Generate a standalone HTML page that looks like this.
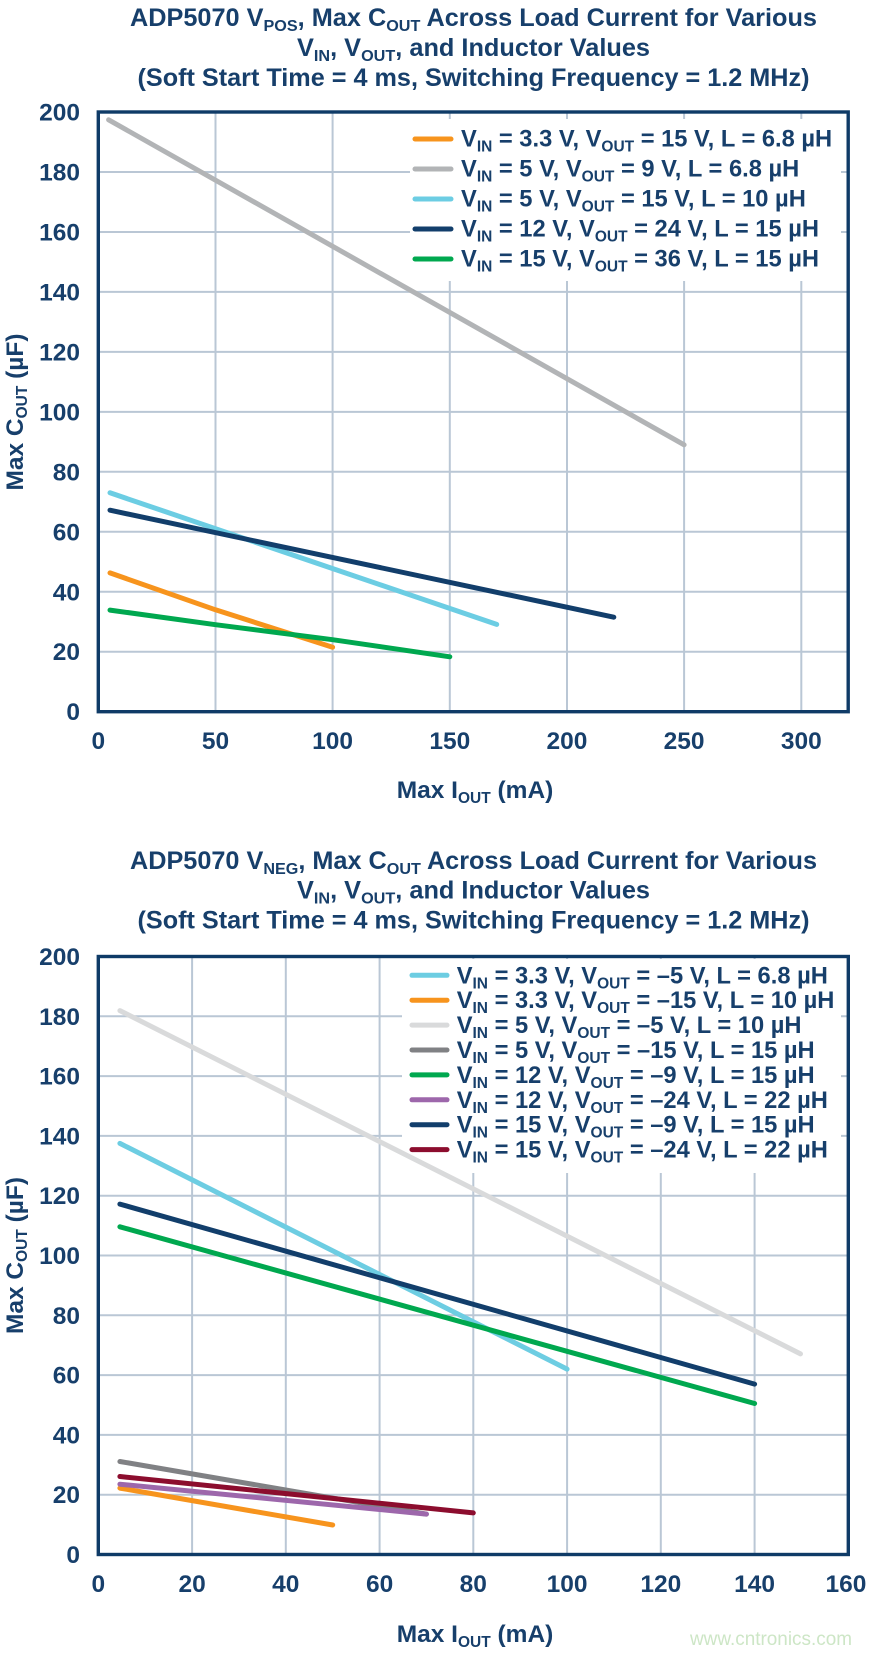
<!DOCTYPE html>
<html><head><meta charset="utf-8">
<style>
html,body{margin:0;padding:0;background:#fff;}
svg{display:block;}
text{font-family:"Liberation Sans",Arial,sans-serif;font-weight:bold;fill:#173f6b;white-space:pre;}
.t{font-size:25px;}
.tk{font-size:24.5px;}
.ax{font-size:24.5px;}
.lg{font-size:23.7px;}
.s{font-size:15.5px;}
.ts{font-size:16px;}
.g{stroke:#bac7d5;stroke-width:2;fill:none;}
.fr{stroke:#0f3b67;stroke-width:3.4;fill:none;}
.d{fill:none;stroke-width:5;stroke-linecap:round;stroke-linejoin:round;}
.sw{stroke-width:5;stroke-linecap:round;}
</style></head>
<body>
<svg width="874" height="1655" viewBox="0 0 874 1655" xmlns="http://www.w3.org/2000/svg">
<rect x="0" y="0" width="874" height="1655" fill="#fff"/>

<!-- ========== TOP CHART ========== -->
<text class="t" x="473.5" y="26" text-anchor="middle" textLength="687" lengthAdjust="spacingAndGlyphs">ADP5070 V<tspan class="ts" dy="5">POS</tspan><tspan dy="-5">, Max C</tspan><tspan class="ts" dy="5">OUT</tspan><tspan dy="-5"> Across Load Current for Various</tspan></text>
<text class="t" x="473.5" y="56" text-anchor="middle" textLength="353" lengthAdjust="spacingAndGlyphs">V<tspan class="ts" dy="5">IN</tspan><tspan dy="-5">, V</tspan><tspan class="ts" dy="5">OUT</tspan><tspan dy="-5">, and Inductor Values</tspan></text>
<text class="t" x="473.5" y="86" text-anchor="middle" textLength="672" lengthAdjust="spacingAndGlyphs">(Soft Start Time = 4 ms, Switching Frequency = 1.2 MHz)</text>

<!-- grid -->
<g class="g">
<line x1="215.5" y1="112" x2="215.5" y2="711.7"/>
<line x1="332.6" y1="112" x2="332.6" y2="711.7"/>
<line x1="449.8" y1="112" x2="449.8" y2="711.7"/>
<line x1="567" y1="112" x2="567" y2="711.7"/>
<line x1="684.1" y1="112" x2="684.1" y2="711.7"/>
<line x1="801.3" y1="112" x2="801.3" y2="711.7"/>
<line x1="98.3" y1="651.7" x2="848.2" y2="651.7"/>
<line x1="98.3" y1="591.8" x2="848.2" y2="591.8"/>
<line x1="98.3" y1="531.8" x2="848.2" y2="531.8"/>
<line x1="98.3" y1="471.8" x2="848.2" y2="471.8"/>
<line x1="98.3" y1="411.9" x2="848.2" y2="411.9"/>
<line x1="98.3" y1="351.9" x2="848.2" y2="351.9"/>
<line x1="98.3" y1="291.9" x2="848.2" y2="291.9"/>
<line x1="98.3" y1="232" x2="848.2" y2="232"/>
<line x1="98.3" y1="172" x2="848.2" y2="172"/>
</g>
<!-- legend background -->
<rect x="410" y="119" width="431" height="162" fill="#fff"/>

<!-- series -->
<polyline class="d" stroke="#f7941d" points="110,572.9 215.5,609.8 332.6,647.2"/>
<polyline class="d" stroke="#b2b4b6" points="108.6,119.8 684.1,444.8"/>
<polyline class="d" stroke="#6ccde3" points="110,492.8 496.7,624.4"/>
<polyline class="d" stroke="#123e6b" points="110,510.2 613.8,617.2"/>
<polyline class="d" stroke="#00a84f" points="110,610.1 215.5,624.7 332.6,639.7 449.8,656.8"/>

<!-- frame -->
<rect class="fr" x="98.3" y="112" width="749.9" height="599.7"/>

<!-- y ticks -->
<g class="tk" text-anchor="end">
<text class="tk" x="80" y="120.5" text-anchor="end">200</text>
<text class="tk" x="80" y="180.5" text-anchor="end">180</text>
<text class="tk" x="80" y="240.5" text-anchor="end">160</text>
<text class="tk" x="80" y="300.4" text-anchor="end">140</text>
<text class="tk" x="80" y="360.4" text-anchor="end">120</text>
<text class="tk" x="80" y="420.4" text-anchor="end">100</text>
<text class="tk" x="80" y="480.3" text-anchor="end">80</text>
<text class="tk" x="80" y="540.3" text-anchor="end">60</text>
<text class="tk" x="80" y="600.3" text-anchor="end">40</text>
<text class="tk" x="80" y="660.2" text-anchor="end">20</text>
<text class="tk" x="80" y="720.2" text-anchor="end">0</text>
</g>
<!-- x ticks -->
<text class="tk" x="98.3" y="749" text-anchor="middle">0</text>
<text class="tk" x="215.5" y="749" text-anchor="middle">50</text>
<text class="tk" x="332.6" y="749" text-anchor="middle">100</text>
<text class="tk" x="449.8" y="749" text-anchor="middle">150</text>
<text class="tk" x="567" y="749" text-anchor="middle">200</text>
<text class="tk" x="684.1" y="749" text-anchor="middle">250</text>
<text class="tk" x="801.3" y="749" text-anchor="middle">300</text>

<!-- axis titles -->
<text class="ax" x="475" y="798" text-anchor="middle">Max I<tspan class="s" dy="5">OUT</tspan><tspan dy="-5"> (mA)</tspan></text>
<text class="ax" transform="translate(23,412) rotate(-90)" x="0" y="0" text-anchor="middle">Max C<tspan class="s" dy="4">OUT</tspan><tspan dy="-4"> (µF)</tspan></text>

<!-- legend -->
<line class="sw" x1="415" y1="139" x2="451" y2="139" stroke="#f7941d"/>
<line class="sw" x1="415" y1="169" x2="451" y2="169" stroke="#b2b4b6"/>
<line class="sw" x1="415" y1="199" x2="451" y2="199" stroke="#6ccde3"/>
<line class="sw" x1="415" y1="229" x2="451" y2="229" stroke="#123e6b"/>
<line class="sw" x1="415" y1="259" x2="451" y2="259" stroke="#00a84f"/>
<text class="lg" x="461" y="146.7">V<tspan class="s" dy="5">IN</tspan><tspan dy="-5"> = 3.3 V, V</tspan><tspan class="s" dy="5">OUT</tspan><tspan dy="-5"> = 15 V, L = 6.8 µH</tspan></text>
<text class="lg" x="461" y="176.7">V<tspan class="s" dy="5">IN</tspan><tspan dy="-5"> = 5 V, V</tspan><tspan class="s" dy="5">OUT</tspan><tspan dy="-5"> = 9 V, L = 6.8 µH</tspan></text>
<text class="lg" x="461" y="206.7">V<tspan class="s" dy="5">IN</tspan><tspan dy="-5"> = 5 V, V</tspan><tspan class="s" dy="5">OUT</tspan><tspan dy="-5"> = 15 V, L = 10 µH</tspan></text>
<text class="lg" x="461" y="236.7">V<tspan class="s" dy="5">IN</tspan><tspan dy="-5"> = 12 V, V</tspan><tspan class="s" dy="5">OUT</tspan><tspan dy="-5"> = 24 V, L = 15 µH</tspan></text>
<text class="lg" x="461" y="266.7">V<tspan class="s" dy="5">IN</tspan><tspan dy="-5"> = 15 V, V</tspan><tspan class="s" dy="5">OUT</tspan><tspan dy="-5"> = 36 V, L = 15 µH</tspan></text>

<!-- ========== BOTTOM CHART ========== -->
<text class="t" x="473.5" y="869" text-anchor="middle" textLength="687" lengthAdjust="spacingAndGlyphs">ADP5070 V<tspan class="ts" dy="5">NEG</tspan><tspan dy="-5">, Max C</tspan><tspan class="ts" dy="5">OUT</tspan><tspan dy="-5"> Across Load Current for Various</tspan></text>
<text class="t" x="473.5" y="898.5" text-anchor="middle" textLength="353" lengthAdjust="spacingAndGlyphs">V<tspan class="ts" dy="5">IN</tspan><tspan dy="-5">, V</tspan><tspan class="ts" dy="5">OUT</tspan><tspan dy="-5">, and Inductor Values</tspan></text>
<text class="t" x="473.5" y="928.5" text-anchor="middle" textLength="672" lengthAdjust="spacingAndGlyphs">(Soft Start Time = 4 ms, Switching Frequency = 1.2 MHz)</text>

<g class="g">
<line x1="192.1" y1="956.5" x2="192.1" y2="1554.5"/>
<line x1="285.8" y1="956.5" x2="285.8" y2="1554.5"/>
<line x1="379.6" y1="956.5" x2="379.6" y2="1554.5"/>
<line x1="473.3" y1="956.5" x2="473.3" y2="1554.5"/>
<line x1="567.1" y1="956.5" x2="567.1" y2="1554.5"/>
<line x1="660.8" y1="956.5" x2="660.8" y2="1554.5"/>
<line x1="754.6" y1="956.5" x2="754.6" y2="1554.5"/>
<line x1="98.3" y1="1494.7" x2="848.3" y2="1494.7"/>
<line x1="98.3" y1="1434.9" x2="848.3" y2="1434.9"/>
<line x1="98.3" y1="1375.1" x2="848.3" y2="1375.1"/>
<line x1="98.3" y1="1315.3" x2="848.3" y2="1315.3"/>
<line x1="98.3" y1="1255.5" x2="848.3" y2="1255.5"/>
<line x1="98.3" y1="1195.7" x2="848.3" y2="1195.7"/>
<line x1="98.3" y1="1135.9" x2="848.3" y2="1135.9"/>
<line x1="98.3" y1="1076.1" x2="848.3" y2="1076.1"/>
<line x1="98.3" y1="1016.3" x2="848.3" y2="1016.3"/>
</g>
<rect x="402" y="959" width="439" height="214" fill="#fff"/>

<polyline class="d" stroke="#6dcde2" points="119.9,1143.4 567.1,1369.1"/>
<polyline class="d" stroke="#f7941d" points="119.9,1488.1 332.7,1525"/>
<polyline class="d" stroke="#d9dadb" points="119.9,1010.6 800.5,1353.9"/>
<polyline class="d" stroke="#808184" points="119.9,1461.5 426.4,1514.1"/>
<polyline class="d" stroke="#00a84f" points="119.9,1226.8 754.6,1403.5"/>
<polyline class="d" stroke="#9d67ab" points="119.9,1484.2 426.4,1514.1"/>
<polyline class="d" stroke="#123e6b" points="119.9,1204.1 754.6,1384.1"/>
<polyline class="d" stroke="#8c0d2e" points="119.9,1476.5 473.3,1512.9"/>

<rect class="fr" x="98.3" y="956.5" width="750" height="598"/>

<text class="tk" x="80" y="965" text-anchor="end">200</text>
<text class="tk" x="80" y="1024.8" text-anchor="end">180</text>
<text class="tk" x="80" y="1084.6" text-anchor="end">160</text>
<text class="tk" x="80" y="1144.4" text-anchor="end">140</text>
<text class="tk" x="80" y="1204.2" text-anchor="end">120</text>
<text class="tk" x="80" y="1264" text-anchor="end">100</text>
<text class="tk" x="80" y="1323.8" text-anchor="end">80</text>
<text class="tk" x="80" y="1383.6" text-anchor="end">60</text>
<text class="tk" x="80" y="1443.4" text-anchor="end">40</text>
<text class="tk" x="80" y="1503.2" text-anchor="end">20</text>
<text class="tk" x="80" y="1563" text-anchor="end">0</text>

<text class="tk" x="98.3" y="1592" text-anchor="middle">0</text>
<text class="tk" x="192.1" y="1592" text-anchor="middle">20</text>
<text class="tk" x="285.8" y="1592" text-anchor="middle">40</text>
<text class="tk" x="379.6" y="1592" text-anchor="middle">60</text>
<text class="tk" x="473.3" y="1592" text-anchor="middle">80</text>
<text class="tk" x="567.1" y="1592" text-anchor="middle">100</text>
<text class="tk" x="660.8" y="1592" text-anchor="middle">120</text>
<text class="tk" x="754.6" y="1592" text-anchor="middle">140</text>
<text class="tk" x="846" y="1592" text-anchor="middle">160</text>

<text class="ax" x="475" y="1642" text-anchor="middle">Max I<tspan class="s" dy="5">OUT</tspan><tspan dy="-5"> (mA)</tspan></text>
<text class="ax" transform="translate(23,1255.5) rotate(-90)" x="0" y="0" text-anchor="middle">Max C<tspan class="s" dy="4">OUT</tspan><tspan dy="-4"> (µF)</tspan></text>

<line class="sw" x1="412" y1="975.3" x2="447" y2="975.3" stroke="#6dcde2"/>
<line class="sw" x1="412" y1="1000.2" x2="447" y2="1000.2" stroke="#f7941d"/>
<line class="sw" x1="412" y1="1025.1" x2="447" y2="1025.1" stroke="#d9dadb"/>
<line class="sw" x1="412" y1="1050" x2="447" y2="1050" stroke="#808184"/>
<line class="sw" x1="412" y1="1074.9" x2="447" y2="1074.9" stroke="#00a84f"/>
<line class="sw" x1="412" y1="1099.8" x2="447" y2="1099.8" stroke="#9d67ab"/>
<line class="sw" x1="412" y1="1124.7" x2="447" y2="1124.7" stroke="#123e6b"/>
<line class="sw" x1="412" y1="1149.6" x2="447" y2="1149.6" stroke="#8c0d2e"/>
<text class="lg" x="456.7" y="983.3">V<tspan class="s" dy="5">IN</tspan><tspan dy="-5"> = 3.3 V, V</tspan><tspan class="s" dy="5">OUT</tspan><tspan dy="-5"> = –5 V, L = 6.8 µH</tspan></text>
<text class="lg" x="456.7" y="1008.2">V<tspan class="s" dy="5">IN</tspan><tspan dy="-5"> = 3.3 V, V</tspan><tspan class="s" dy="5">OUT</tspan><tspan dy="-5"> = –15 V, L = 10 µH</tspan></text>
<text class="lg" x="456.7" y="1033.1">V<tspan class="s" dy="5">IN</tspan><tspan dy="-5"> = 5 V, V</tspan><tspan class="s" dy="5">OUT</tspan><tspan dy="-5"> = –5 V, L = 10 µH</tspan></text>
<text class="lg" x="456.7" y="1058">V<tspan class="s" dy="5">IN</tspan><tspan dy="-5"> = 5 V, V</tspan><tspan class="s" dy="5">OUT</tspan><tspan dy="-5"> = –15 V, L = 15 µH</tspan></text>
<text class="lg" x="456.7" y="1082.9">V<tspan class="s" dy="5">IN</tspan><tspan dy="-5"> = 12 V, V</tspan><tspan class="s" dy="5">OUT</tspan><tspan dy="-5"> = –9 V, L = 15 µH</tspan></text>
<text class="lg" x="456.7" y="1107.8">V<tspan class="s" dy="5">IN</tspan><tspan dy="-5"> = 12 V, V</tspan><tspan class="s" dy="5">OUT</tspan><tspan dy="-5"> = –24 V, L = 22 µH</tspan></text>
<text class="lg" x="456.7" y="1132.7">V<tspan class="s" dy="5">IN</tspan><tspan dy="-5"> = 15 V, V</tspan><tspan class="s" dy="5">OUT</tspan><tspan dy="-5"> = –9 V, L = 15 µH</tspan></text>
<text class="lg" x="456.7" y="1157.6">V<tspan class="s" dy="5">IN</tspan><tspan dy="-5"> = 15 V, V</tspan><tspan class="s" dy="5">OUT</tspan><tspan dy="-5"> = –24 V, L = 22 µH</tspan></text>

<!-- watermark -->
<text x="690" y="1645" style="font-weight:normal;font-size:19px;fill:#cde6c6;" textLength="162" lengthAdjust="spacingAndGlyphs">www.cntronics.com</text>
</svg>
</body></html>
